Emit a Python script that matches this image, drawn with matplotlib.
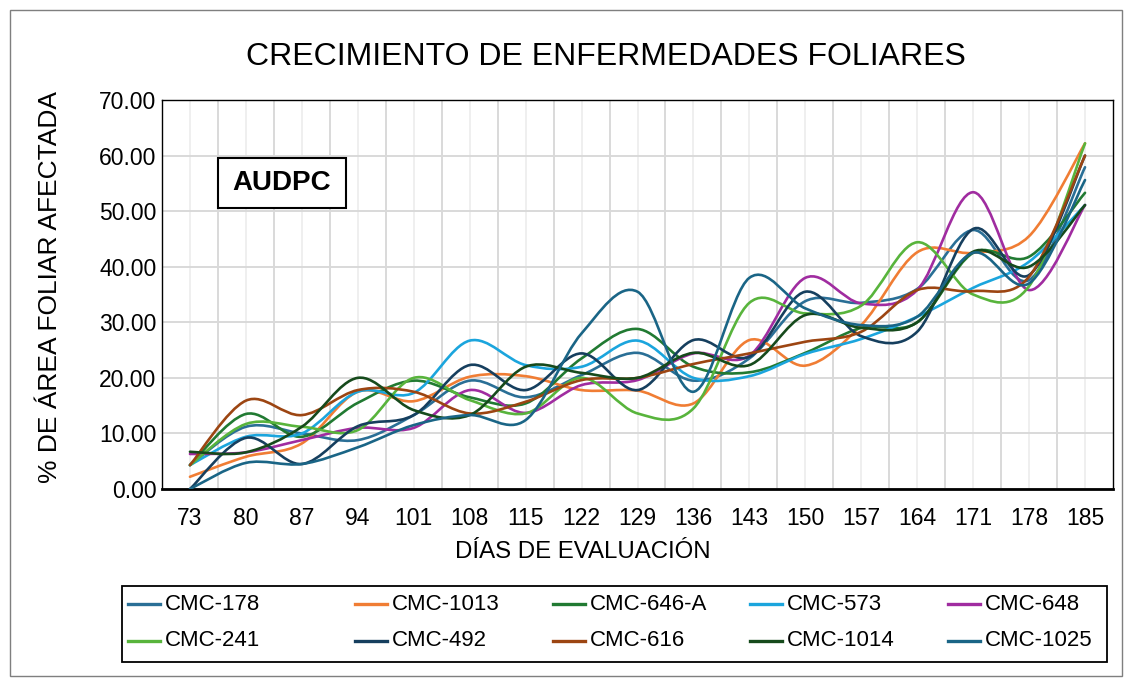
import matplotlib
matplotlib.use("Agg")
import matplotlib.pyplot as plt
from matplotlib.path import Path
from matplotlib.patches import PathPatch, Rectangle
from matplotlib.lines import Line2D

plt.rcParams["font.family"] = ["Liberation Sans", "DejaVu Sans"]

days = [73, 80, 87, 94, 101, 108, 115, 122, 129, 136, 143, 150, 157, 164, 171, 178, 185]

cmc_178 = [4.3, 11.2, 10.0, 8.8, 13.3, 19.5, 16.5, 20.5, 24.5, 19.5, 23.5, 33.8, 33.5, 36.0, 46.6, 37.6, 57.9]
cmc_1013 = [2.2, 5.8, 8.2, 17.5, 15.8, 20.2, 20.3, 17.8, 17.7, 15.4, 26.8, 22.2, 29.5, 42.6, 42.5, 45.5, 62.2]
cmc_646a = [4.3, 13.5, 9.4, 15.5, 19.5, 16.5, 15.4, 23.5, 28.8, 22.0, 21.0, 24.5, 29.0, 30.0, 42.5, 41.8, 53.3]
cmc_573 = [4.3, 9.4, 10.0, 17.5, 17.3, 26.7, 22.3, 22.0, 26.7, 20.0, 20.3, 24.3, 27.0, 31.0, 36.2, 40.9, 51.1]
cmc_648 = [6.3, 6.6, 8.8, 11.0, 11.0, 17.8, 13.7, 18.7, 19.6, 24.4, 24.0, 38.0, 33.4, 35.8, 53.4, 35.8, 51.1]
cmc_241 = [4.3, 11.7, 11.2, 10.6, 20.0, 16.0, 13.6, 20.0, 13.6, 14.5, 33.5, 31.6, 33.0, 44.4, 35.0, 36.5, 62.2]
cmc_492 = [0.0, 9.2, 4.5, 11.3, 13.3, 22.3, 17.8, 24.4, 17.8, 26.8, 23.8, 35.5, 27.5, 28.3, 46.8, 38.5, 60.0]
cmc_616 = [4.3, 15.9, 13.3, 17.8, 17.5, 13.6, 15.7, 19.6, 20.0, 22.5, 24.4, 26.5, 28.3, 35.8, 35.6, 38.2, 60.0]
cmc_1014 = [6.7, 6.6, 11.2, 20.0, 14.2, 13.3, 22.0, 20.9, 20.0, 24.5, 22.3, 31.3, 29.0, 30.0, 42.7, 40.0, 51.1]
cmc_1025 = [0.0, 4.7, 4.5, 7.5, 11.5, 13.3, 12.4, 28.0, 35.5, 17.5, 38.0, 32.5, 29.5, 31.0, 42.5, 37.0, 55.6]

series = [
    ("CMC-178", cmc_178, "#2a6f96"),
    ("CMC-1013", cmc_1013, "#f07d34"),
    ("CMC-646-A", cmc_646a, "#217a32"),
    ("CMC-573", cmc_573, "#1ba5dd"),
    ("CMC-648", cmc_648, "#a02ca0"),
    ("CMC-241", cmc_241, "#58b43c"),
    ("CMC-492", cmc_492, "#163f5e"),
    ("CMC-616", cmc_616, "#9c4512"),
    ("CMC-1014", cmc_1014, "#164a1c"),
    ("CMC-1025", cmc_1025, "#1a6586"),
]


def smooth_path(xs, ys):
    # Excel-like smoothed line: cubic Bezier through every point
    pts = list(zip(xs, ys))
    n = len(pts)
    verts = [pts[0]]
    codes = [Path.MOVETO]
    for i in range(n - 1):
        p0 = pts[max(i - 1, 0)]
        p1 = pts[i]
        p2 = pts[i + 1]
        p3 = pts[min(i + 2, n - 1)]
        c1 = (p1[0] + (p2[0] - p0[0]) / 6, p1[1] + (p2[1] - p0[1]) / 6)
        c2 = (p2[0] - (p3[0] - p1[0]) / 6, p2[1] - (p3[1] - p1[1]) / 6)
        verts += [c1, c2, p2]
        codes += [Path.CURVE4] * 3
    return Path(verts, codes)


W, H = 1131, 684
fig = plt.figure(figsize=(W / 100, H / 100), dpi=100)
ax = fig.add_axes([162 / W, 1 - 489 / H, 951 / W, 389 / H])

x = list(range(len(days)))
for name, vals, color in series:
    ax.add_patch(PathPatch(smooth_path(x, vals), facecolor="none", edgecolor=color,
                           lw=1.9, capstyle="round", joinstyle="round", zorder=3))

ax.set_xlim(-0.5, len(days) - 0.5)
ax.set_ylim(0, 70)
ax.set_xticks(x)
ax.set_xticklabels([str(d) for d in days])
ax.set_xticks([i + 0.5 for i in range(len(days) - 1)], minor=True)
ax.set_yticks(range(0, 71, 10))
ax.set_yticklabels([f"{v:.2f}" for v in range(0, 71, 10)])
ax.tick_params(axis="both", which="both", length=0, labelsize=16.5)
ax.tick_params(axis="x", pad=13)
ax.tick_params(axis="y", pad=4)
ax.set_axisbelow(True)
ax.grid(axis="y", which="major", color="#d9d9d9", lw=1.4)
ax.grid(axis="x", which="major", color="#eeeeee", lw=1.3)
ax.grid(axis="x", which="minor", color="#d9d9d9", lw=1.4)
for side in ["left", "top", "right"]:
    ax.spines[side].set_linewidth(1.0)
    ax.spines[side].set_color("black")
ax.spines["bottom"].set_linewidth(2.0)

fig.text(606 / W, 1 - 57 / H, "CRECIMIENTO DE ENFERMEDADES FOLIARES",
         ha="center", va="center", fontsize=23)
fig.text(583 / W, 1 - 552 / H, "DÍAS DE EVALUACIÓN", ha="center", va="center", fontsize=17.3)
fig.text(50 / W, 1 - 287 / H, "% DE ÁREA FOLIAR AFECTADA", ha="center", va="center",
         rotation=90, fontsize=19)

# AUDPC box
fig.add_artist(Rectangle((218 / W, 1 - 208 / H), 128 / W, 50 / H, transform=fig.transFigure,
                         facecolor="white", edgecolor="black", lw=1.5, zorder=5))
fig.text(282 / W, 1 - 183 / H, "AUDPC", ha="center", va="center", fontsize=20,
         fontweight="bold", zorder=6)

# outer chart border
fig.add_artist(Rectangle((10 / W, 1 - 676 / H), 1112 / W, 666 / H, transform=fig.transFigure,
                         facecolor="none", edgecolor="#7f7f7f", lw=1.0))

# legend: 2 rows x 5 columns, laid out like the Excel legend
fig.add_artist(Rectangle((122 / W, 1 - 662 / H), 985 / W, 76 / H, transform=fig.transFigure,
                         facecolor="white", edgecolor="black", lw=1.3, zorder=4))
text_x = [165, 392, 590, 787, 985]
row_y = [604, 641]
for k, (name, vals, color) in enumerate(series):
    row, col = divmod(k, 5)
    tx = text_x[col]
    ty = 1 - row_y[row] / H
    fig.add_artist(Line2D([(tx - 37) / W, (tx - 5) / W], [ty, ty], color=color, lw=2.4,
                          transform=fig.transFigure, zorder=5))
    fig.text(tx / W, ty, name, ha="left", va="center", fontsize=16, zorder=5)

fig.savefig("out.png", dpi=100, facecolor="white")
